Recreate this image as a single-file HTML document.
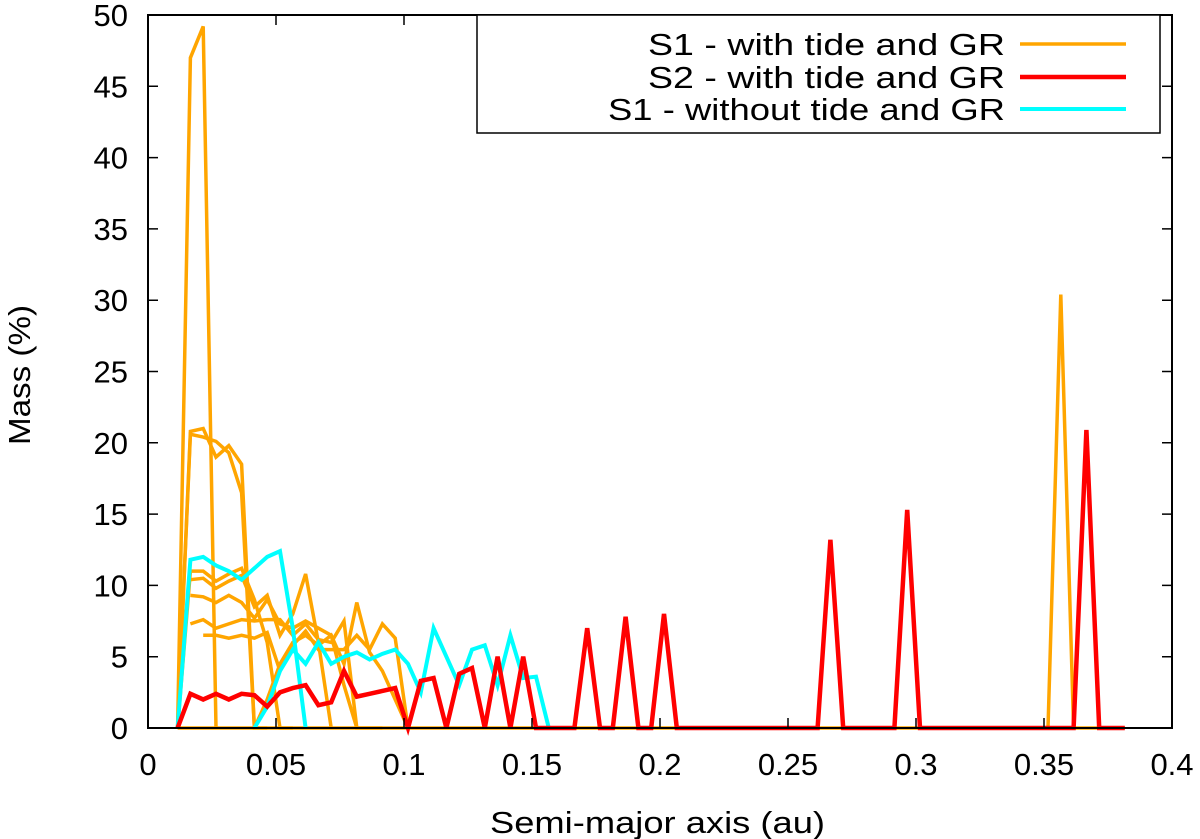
<!DOCTYPE html>
<html><head><meta charset="utf-8"><style>
body{margin:0;background:#fff}
svg{display:block;font-family:"Liberation Sans",sans-serif}
</style></head><body>
<svg id="c" width="1200" height="839">
<g id="grid"></g><g id="series"></g>
<rect x="148" y="15" width="1024" height="713" fill="none" stroke="#000" stroke-width="2"/>
<g id="ticks"></g>
<text x="490" y="833" font-size="31" textLength="335" lengthAdjust="spacingAndGlyphs">Semi-major axis (au)</text>
<text x="30" y="375" font-size="31" text-anchor="middle" textLength="140" lengthAdjust="spacingAndGlyphs" transform="rotate(-90 30 375)">Mass (%)</text>
<g>
<rect x="477" y="15" width="683" height="118" fill="#fff" stroke="#000" stroke-width="1.5"/>
<text x="648" y="55" font-size="31" textLength="357" lengthAdjust="spacingAndGlyphs">S1 - with tide and GR</text>
<line x1="1020" y1="44" x2="1126" y2="44" stroke="#ffa500" stroke-width="3.5"/>
<text x="648" y="88" font-size="31" textLength="357" lengthAdjust="spacingAndGlyphs">S2 - with tide and GR</text>
<line x1="1020" y1="77" x2="1126" y2="77" stroke="#ff0000" stroke-width="4.5"/>
<text x="608" y="120" font-size="31" textLength="397" lengthAdjust="spacingAndGlyphs">S1 - without tide and GR</text>
<line x1="1020" y1="109" x2="1126" y2="109" stroke="#00ffff" stroke-width="4"/>
</g>
</svg>
<script>
const xTicks=[0,0.05,0.1,0.15,0.2,0.25,0.3,0.35,0.4];
const xTickLabels=["0","0.05","0.1","0.15","0.2","0.25","0.3","0.35","0.4"];
const yTicks=[0,5,10,15,20,25,30,35,40,45,50];
const orangeX=[
[0.01,0.015,0.02,0.025],
[0.01,0.015,0.02,0.025,0.03,0.035,0.04],
[0.01,0.015,0.02,0.025,0.03,0.035,0.04,0.045],
[0.01,0.015,0.02,0.025,0.03,0.035,0.04,0.045,0.05,0.055],
[0.015,0.02,0.025,0.03,0.035,0.04,0.045,0.05,0.055,0.06,0.065,0.07],
[0.015,0.02,0.025,0.03,0.035,0.04,0.045,0.05,0.055,0.06,0.065,0.07,0.075,0.08],
[0.015,0.02,0.025,0.03,0.035,0.04,0.045,0.05,0.055,0.06,0.065,0.07,0.075,0.08,0.085,0.09],
[0.02,0.025,0.03,0.035,0.04,0.045,0.05,0.055,0.06,0.065,0.07,0.075,0.08,0.085,0.09,0.095,0.1],
[0.04,0.045,0.05,0.055,0.06,0.065,0.07,0.075,0.08,0.085,0.09,0.095,0.1],
[0.35,0.355,0.36]
];
const orangeY=[
[0,47,49.2,0],
[0,20.8,21,19,19.8,18.5,0],
[0,20.6,20.4,20.1,19.3,16.5,0,0],
[0,11,11,10.3,10.8,11.2,9,6,0,0],
[10.4,10.5,9.8,10.3,10.7,8.5,9.3,6.5,8,10.8,6,0],
[9.3,9.2,8.8,9.3,8.8,7.7,9,7.3,7,7.5,7,6.5,3,0],
[7.3,7.6,7,7.3,7.6,7.5,7.6,7.6,6.5,7.3,6.2,6,7.5,0,0,0],
[6.5,6.5,6.3,6.5,6.3,6.7,4,5.8,6.8,5.5,5.5,5.5,6.5,5.5,7.3,6.3,0],
[0,2,4.5,6,6.5,5.8,6.5,4.5,8.8,5.3,4,2,0],
[0,30.4,0]
];
const cyanX=[
[0.01,0.015,0.02,0.025,0.03,0.035,0.04,0.045,0.05,0.055,0.06],
[0.04,0.045,0.05,0.055,0.06,0.065,0.07,0.075,0.08,0.085,0.09,0.095,0.1,0.105,0.11,0.115,0.12,0.125,0.13,0.135,0.14,0.145,0.15,0.155]
];
const cyanY=[
[0,11.8,12,11.4,11,10.4,11.2,12,12.4,7,0],
[0,1.5,4,5.5,4.5,6,4.5,5,5.3,4.8,5.2,5.5,4.5,2.5,7,5,3,5.5,5.8,3,6.5,3.5,3.6,0]
];
const redX=[0.01,0.015,0.02,0.025,0.03,0.035,0.04,0.045,0.05,0.055,0.06,0.065,0.07,0.075,0.08,0.085,0.09,0.095,0.1,0.105,0.11,0.115,0.12,0.125,0.13,0.135,0.14,0.145,0.15,0.165,0.17,0.175,0.18,0.185,0.19,0.195,0.2,0.205,0.26,0.265,0.27,0.29,0.295,0.3,0.36,0.365,0.37,0.38];
const redY=[0,2.4,2,2.4,2,2.4,2.3,1.5,2.5,2.8,3,1.6,1.8,4,2.2,2.4,2.6,2.8,0,3.3,3.5,0,3.8,4.2,0,5,0,5,0,0,7,0,0,7.8,0,0,8,0,0,13.2,0,0,15.3,0,0,20.9,0,0];
const sx=a=>148+a/0.4*1024, sy=m=>728-m/50*713;
const px=a=>sx(a)+4;
const NS="http://www.w3.org/2000/svg";
const g=document.getElementById('series'), t=document.getElementById('ticks');
function line(xs,ys,color,w,name){
  const p=document.createElementNS(NS,'polyline');
  p.setAttribute('points',xs.map((x,i)=>px(x)+','+sy(ys[i])).join(' '));
  p.setAttribute('fill','none');p.setAttribute('stroke',color);p.setAttribute('stroke-width',w);p.setAttribute('stroke-linejoin','miter');
  
  
  g.appendChild(p);
}
line([0.01,0.38],[0,0],'#ffa500',3.5,'orange-baseline');
orangeX.forEach((xs,i)=>line(xs,orangeY[i],'#ffa500',3.5,'s1-tide-series-'+i));
cyanX.forEach((xs,i)=>line(xs,cyanY[i],'#00ffff',4,'s1-notide-series-'+i));
line(redX,redY,'#ff0000',4.5,'s2-tide-series');
xTicks.forEach((v,i)=>{
  const x=sx(v);
  const l=document.createElementNS(NS,'path');
  l.setAttribute('d',`M${x},728v-10M${x},15v10`);l.setAttribute('stroke','#000');l.setAttribute('stroke-width',1.5);
  
  
  t.appendChild(l);
  const tx=document.createElementNS(NS,'text');
  tx.setAttribute('x',x);tx.setAttribute('y',775);tx.setAttribute('font-size',31);tx.setAttribute('text-anchor','middle');
  tx.textContent=xTickLabels[i];
  
  
  t.appendChild(tx);
});
yTicks.forEach(v=>{
  const y=sy(v);
  const l=document.createElementNS(NS,'path');
  l.setAttribute('d',`M148,${y}h10M1172,${y}h-10`);l.setAttribute('stroke','#000');l.setAttribute('stroke-width',1.5);
  
  
  t.appendChild(l);
  const tx=document.createElementNS(NS,'text');
  tx.setAttribute('x',128);tx.setAttribute('y',y+11);tx.setAttribute('font-size',31);tx.setAttribute('text-anchor','end');
  tx.textContent=v;
  
  
  t.appendChild(tx);
});
</script>
</body></html>
